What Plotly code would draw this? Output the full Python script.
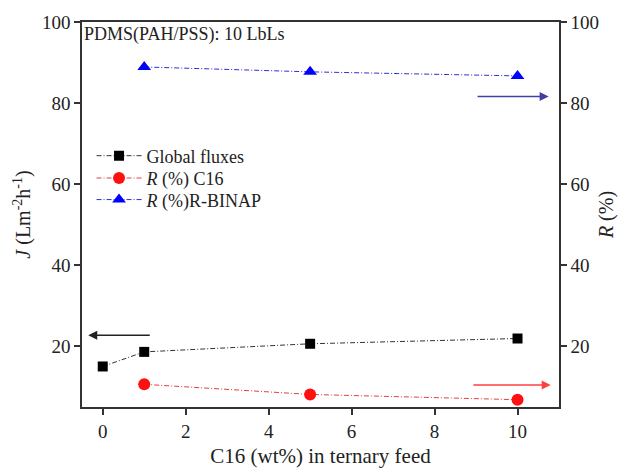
import plotly.graph_objects as go

x_flux = [0, 1, 5, 10]
flux = [15.0, 18.6, 20.6, 21.9]
x_r = [1, 5, 10]
r_c16 = [10.6, 8.1, 6.8]
r_binap = [88.9, 87.7, 86.7]

FONT = "Liberation Serif"
DASH = "5px,2px,1px,2px"

fig = go.Figure()
fig.add_trace(go.Scatter(x=x_flux, y=flux, mode="lines+markers", name="Global fluxes",
                         line=dict(color="#333333", width=1, dash=DASH),
                         marker=dict(symbol="square", size=10, color="black"), legend="legend"))
fig.add_trace(go.Scatter(x=x_r, y=r_c16, mode="lines+markers", name="<i>R</i> (%) C16",
                         line=dict(color="#e04040", width=1, dash=DASH),
                         marker=dict(symbol="circle", size=12, color="#ff1010"), yaxis="y2",
                         legend="legend2"))
fig.add_trace(go.Scatter(x=x_r, y=r_binap, mode="lines+markers", name="<i>R</i> (%)R-BINAP",
                         line=dict(color="#3030d0", width=1, dash=DASH),
                         marker=dict(symbol="triangle-up", size=12, color="#0000ff"), yaxis="y2",
                         legend="legend3"))

axis_common = dict(showgrid=False, zeroline=False, showline=True, linecolor="#333333", linewidth=1.5,
                   ticks="outside", ticklen=6, tickwidth=1.5, tickcolor="#333333", automargin=False,
                   tickfont=dict(family=FONT, size=19, color="#222222"))

leg_common = dict(xanchor="left", yanchor="middle", bgcolor="rgba(0,0,0,0)", itemwidth=45,
                  font=dict(family=FONT, size=18, color="#222222"))

fig.update_layout(
    width=619, height=466,
    margin=dict(l=74, r=68, t=14, b=67, autoexpand=False),
    paper_bgcolor="white", plot_bgcolor="white",
    font=dict(family=FONT, color="#222222"),
    showlegend=True,
    legend=dict(x=0.02, y=0.652, **leg_common),
    legend2=dict(x=0.02, y=0.594, **leg_common),
    legend3=dict(x=0.02, y=0.538, **leg_common),
    xaxis=dict(range=[-0.5, 11], tickvals=[0, 2, 4, 6, 8, 10], mirror=True,
               title=dict(text="C16 (wt%) in ternary feed", font=dict(family=FONT, size=21), standoff=8),
               **axis_common),
    yaxis=dict(range=[5, 100], tickvals=[20, 40, 60, 80, 100],
               title=dict(text="<i>J</i> (Lm<sup>-2</sup>h<sup>-1</sup>)", font=dict(family=FONT, size=20), standoff=6),
               **axis_common),
    yaxis2=dict(range=[5, 100], tickvals=[20, 40, 60, 80, 100], overlaying="y", side="right",
                title=dict(text="<i>R</i> (%)", font=dict(family=FONT, size=20), standoff=1),
                **axis_common),
)

fig.add_annotation(text="PDMS(PAH/PSS): 10 LbLs", xref="paper", yref="paper", x=0.0, y=1.0,
                   xanchor="left", yanchor="top", showarrow=False,
                   font=dict(family=FONT, size=18, color="#222222"))

arrows = [
    dict(x=-0.35, y=22.7, ax=1.17, ay=22.7, color="#222222", yref="y"),
    dict(x=10.8, y=10.4, ax=8.9, ay=10.4, color="#ff4040", yref="y2"),
    dict(x=10.75, y=81.6, ax=9.0, ay=81.6, color="#4040a0", yref="y2"),
]
for a in arrows:
    fig.add_annotation(x=a["x"], y=a["y"], ax=a["ax"], ay=a["ay"], xref="x", yref=a["yref"],
                       axref="x", ayref=a["yref"], text="", showarrow=True,
                       arrowhead=2, arrowsize=1.2, arrowwidth=1.5, arrowcolor=a["color"])

fig.write_html("out.html")
